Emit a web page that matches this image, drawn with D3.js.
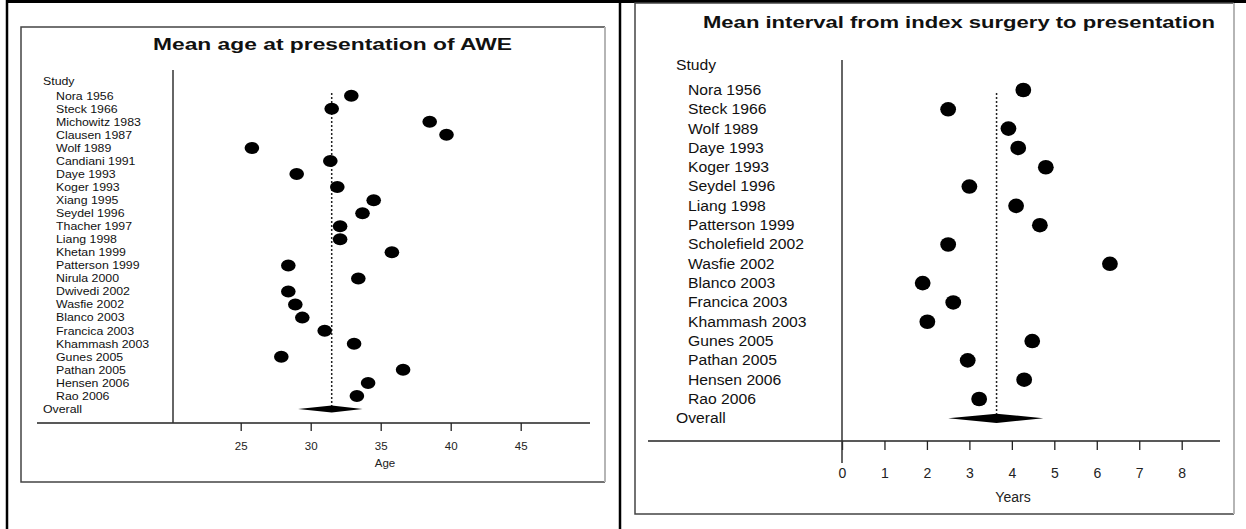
<!DOCTYPE html>
<html>
<head>
<meta charset="utf-8">
<script src="https://cdn.jsdelivr.net/npm/d3@7"></script>
<style>
  body { margin: 0; background: #fff; }
  svg { display: block; font-family: Arial, "Liberation Sans", sans-serif; }
</style>
</head>
<body>
<svg id="chart" width="1246" height="529"></svg>
<script>
// two forest plots side by side: mean age and mean interval to presentation

const ageStudies = ["Nora 1956", "Steck 1966", "Michowitz 1983", "Clausen 1987", "Wolf 1989",
  "Candiani 1991", "Daye 1993", "Koger 1993", "Xiang 1995", "Seydel 1996", "Thacher 1997",
  "Liang 1998", "Khetan 1999", "Patterson 1999", "Nirula 2000", "Dwivedi 2002", "Wasfie 2002",
  "Blanco 2003", "Francica 2003", "Khammash 2003", "Gunes 2005", "Pathan 2005", "Hensen 2006",
  "Rao 2006"];
const ageMeans = [32.9, 31.5, 38.5, 39.7, 25.8, 31.4, 29.0, 31.9, 34.5, 33.7, 32.1,
  32.1, 35.8, 28.4, 33.4, 28.4, 28.9, 29.4, 31.0, 33.1, 27.9, 36.6, 34.1, 33.3];
const ageOverall = 31.5;
const ageCI = [29.1, 33.7];
const ageTicks = [25, 30, 35, 40, 45];

const intStudies = ["Nora 1956", "Steck 1966", "Wolf 1989", "Daye 1993", "Koger 1993",
  "Seydel 1996", "Liang 1998", "Patterson 1999", "Scholefield 2002", "Wasfie 2002",
  "Blanco 2003", "Francica 2003", "Khammash 2003", "Gunes 2005", "Pathan 2005",
  "Hensen 2006", "Rao 2006"];
const intMeans = [4.27, 2.5, 3.92, 4.15, 4.8, 3.0, 4.1, 4.66, 2.5, 6.31,
  1.9, 2.62, 2.01, 4.48, 2.96, 4.29, 3.23];
const intOverall = 3.64;
const intCI = [2.5, 4.74];
const intTicks = [0, 1, 2, 3, 4, 5, 6, 7, 8];

const svg = d3.select("#chart");

// the source picture is a bit stretched sideways, text too
function widen(sel, k) {
  sel.each(function () {
    const w = this.getComputedTextLength();
    d3.select(this).attr("textLength", w * k).attr("lengthAdjust", "spacingAndGlyphs");
  });
}

// outer frame of the figure
svg.append("line").attr("x1", 6).attr("x2", 1246).attr("y1", 1.5).attr("y2", 1.5)
  .attr("stroke", "#000").attr("stroke-width", 3);
svg.append("line").attr("x1", 7).attr("x2", 7).attr("y1", 0).attr("y2", 529)
  .attr("stroke", "#000").attr("stroke-width", 2.5);
svg.append("line").attr("x1", 620).attr("x2", 620).attr("y1", 0).attr("y2", 529)
  .attr("stroke", "#000").attr("stroke-width", 2.5);

function drawForest(c) {
  const g = svg.append("g");

  // panel box: darker top/left/bottom, pale right edge
  const b = c.box;
  g.append("path")
    .attr("d", `M${b[2]},${b[1]} H${b[0]} V${b[3]} H${b[2]}`)
    .attr("fill", "none").attr("stroke", "#444").attr("stroke-width", 1.5);
  g.append("line").attr("x1", b[2]).attr("x2", b[2]).attr("y1", b[1]).attr("y2", b[3])
    .attr("stroke", "#b5b5b5").attr("stroke-width", 2);

  // title
  g.append("text")
    .attr("x", c.titleX).attr("y", c.titleY)
    .attr("font-size", 16.5).attr("font-weight", "bold").attr("fill", "#111")
    .attr("textLength", c.titleW).attr("lengthAdjust", "spacingAndGlyphs")
    .text(c.title);

  const x = d3.scaleLinear().domain(c.domain).range(c.range);
  const y = d3.scalePoint().domain([...c.studies, "Overall"]).range(c.rows);

  // study labels
  const labels = g.append("g").attr("font-size", c.labelSize).attr("fill", "#111");
  labels.append("text").attr("x", c.headX).attr("y", c.headY).attr("dy", "0.35em").text("Study");
  labels.selectAll(".study")
    .data(c.studies)
    .join("text")
    .attr("class", "study")
    .attr("x", c.nameX)
    .attr("y", d => y(d))
    .attr("dy", "0.35em")
    .text(d => d);
  labels.append("text").attr("x", c.headX).attr("y", y("Overall")).attr("dy", "0.35em").text("Overall");
  widen(labels.selectAll("text"), 1.12);

  // x axis
  g.append("line")
    .attr("x1", c.axisX[0]).attr("x2", c.axisX[1])
    .attr("y1", c.axisY).attr("y2", c.axisY)
    .attr("stroke", "#222").attr("stroke-width", 1.5);
  const ax = g.append("g")
    .attr("transform", `translate(0, ${c.axisY})`)
    .call(d3.axisBottom(x).tickValues(c.ticks).tickSize(c.tickSize).tickPadding(c.tickPad).tickFormat(d3.format("d")));
  ax.select(".domain").remove();
  ax.selectAll(".tick line").attr("stroke", "#222").attr("stroke-width", 1.3);
  ax.selectAll("text").attr("font-size", c.tickFont).attr("fill", "#222")
    .attr("font-family", "Arial, 'Liberation Sans', sans-serif");

  g.append("text")
    .attr("x", c.xTitleX).attr("y", c.xTitleY)
    .attr("text-anchor", "middle")
    .attr("font-size", c.tickFont).attr("fill", "#222")
    .text(c.xTitle);

  // vertical separator between labels and plot
  g.append("line")
    .attr("x1", c.sepX).attr("x2", c.sepX)
    .attr("y1", c.sepY[0]).attr("y2", c.sepY[1])
    .attr("stroke", "#333").attr("stroke-width", 1.5);

  // dashed overall line
  g.append("line")
    .attr("x1", x(c.overall)).attr("x2", x(c.overall))
    .attr("y1", c.dashY[0]).attr("y2", c.dashY[1])
    .attr("stroke", "#222").attr("stroke-width", 1.5)
    .attr("stroke-dasharray", "2,2");

  // study means
  g.selectAll(".pt")
    .data(c.means)
    .join("ellipse")
    .attr("class", "pt")
    .attr("cx", d => x(d))
    .attr("cy", (d, i) => y(c.studies[i]))
    .attr("rx", c.rx).attr("ry", c.ry)
    .attr("fill", "#000");

  // pooled diamond
  const dy = y("Overall"), h = c.diamondH;
  g.append("path")
    .attr("d", `M${x(c.ci[0])},${dy} L${x(c.overall)},${dy - h} L${x(c.ci[1])},${dy} L${x(c.overall)},${dy + h} Z`)
    .attr("fill", "#000");
}

drawForest({
  box: [21, 27, 605, 482],
  title: "Mean age at presentation of AWE",
  titleX: 153, titleY: 50, titleW: 359,
  studies: ageStudies, means: ageMeans, overall: ageOverall, ci: ageCI, ticks: ageTicks,
  domain: [25, 45], range: [240.7, 520.7],
  rows: [95.7, 409],
  labelSize: 11, headX: 43, headY: 81, nameX: 56,
  axisX: [37, 590], axisY: 423, tickSize: 8, tickPad: 11, tickFont: 11.5,
  xTitle: "Age", xTitleX: 385, xTitleY: 467,
  sepX: 173, sepY: [70, 423],
  dashY: [93, 407],
  rx: 7.3, ry: 6, diamondH: 3.6
});

drawForest({
  box: [635, 3, 1234, 514],
  title: "Mean interval from index surgery to presentation",
  titleX: 703, titleY: 28, titleW: 512,
  studies: intStudies, means: intMeans, overall: intOverall, ci: intCI, ticks: intTicks,
  domain: [0, 8], range: [842, 1181.7],
  rows: [90, 418.3],
  labelSize: 14, headX: 676, headY: 65, nameX: 688,
  axisX: [648, 1220], axisY: 441, tickSize: 9, tickPad: 18, tickFont: 14,
  xTitle: "Years", xTitleX: 1013, xTitleY: 501.5,
  sepX: 842, sepY: [60, 463],
  dashY: [93, 414],
  rx: 7.9, ry: 7.3, diamondH: 4.6
});
</script>
</body>
</html>
